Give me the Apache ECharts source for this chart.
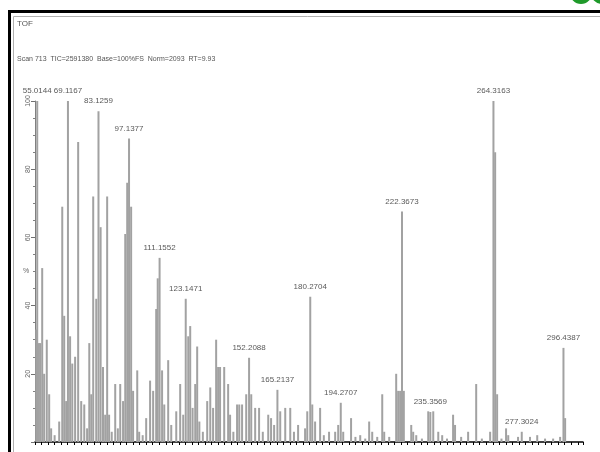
<!DOCTYPE html>
<html>
<head>
<meta charset="utf-8">
<script src="https://cdn.jsdelivr.net/npm/echarts@6/dist/echarts.min.js"></script>
<style>
  html, body { margin: 0; padding: 0; background: #fff; }
  #chart { width: 600px; height: 452px; }
</style>
</head>
<body>
<div id="chart"></div>
<script>
// Mass spectrum: m/z of each stick and its relative intensity (%)
const mz = [
  54.6, 55.0144, 55.8, 56.4, 57.3, 58.2, 59.4, 60.5, 61.4, 63.0, 65.1, 66.5, 67.4, 68.3,
  69.1167, 70.1, 71.1, 72.4, 73.8, 75.2, 76.6, 77.9, 78.9, 79.8, 80.7, 82.1, 83.1259,
  84.1, 85.2, 86.2, 87.1, 88.0, 89.2, 90.8, 92.0, 93.1, 94.4, 95.4, 96.3, 97.1377, 98.1,
  99.0, 100.9, 101.8, 103.4, 105.0, 106.8, 108.2, 109.6, 110.3, 111.1552, 112.3, 113.3,
  115.1, 116.5, 118.8, 120.6, 122.0, 123.1471, 124.3, 125.2, 126.3, 127.5, 128.4, 129.4,
  131.0, 133.0, 134.4, 135.7, 137.1, 138.0, 138.9, 140.8, 142.6, 143.5, 145.0, 146.7,
  147.7, 149.0, 150.9, 152.2088, 153.2, 155.0, 156.8, 158.5, 161.0, 162.3, 163.7,
  165.2137, 166.5, 168.8, 171.1, 172.8, 174.7, 177.9, 178.9, 180.2704, 181.2, 182.5,
  184.8, 186.5, 188.9, 191.7, 193.1, 194.2707, 195.4, 199.0, 201.0, 203.2, 205.5, 207.3,
  208.7, 211.0, 213.3, 214.2, 216.5, 219.7, 220.6, 221.5, 222.3673, 223.2, 226.6, 227.5,
  228.9, 231.5, 234.4, 235.3569, 236.7, 239.0, 240.8, 243.0, 245.8, 246.7, 249.5, 252.7,
  256.4, 259.0, 262.8, 264.3163, 265.1, 266.0, 268.0, 270.1, 271.1, 275.6, 277.3024,
  281.1, 284.4, 288.0, 291.7, 294.9, 296.4387, 297.2
];
const intensity = [
  33, 100, 29, 29, 51, 20, 30, 14, 4, 2, 6, 69, 37, 12,
  100, 31, 23, 25, 88, 12, 11, 4, 29, 14, 72, 42, 97,
  63, 22, 8, 72, 8, 3, 17, 4, 17, 12, 61, 76, 89, 69,
  15, 21, 3, 2, 7, 18, 15, 39, 48, 54, 21, 11,
  24, 5, 9, 17, 8, 42, 31, 34, 10, 17, 28, 6,
  3, 12, 16, 10, 30, 22, 22, 22, 17, 8, 3, 11,
  11, 11, 14, 24.7, 14, 10, 10, 3, 8, 7, 5,
  15.3, 9, 10, 10, 3, 5, 4, 9, 42.6, 11, 6,
  10, 2, 3, 3, 5, 11.5, 3, 7, 1.5, 2, 1, 6,
  3, 1.5, 14, 3, 1.5, 20, 15, 15, 67.6, 15, 5, 3,
  2, 1, 9, 8.8, 9, 3, 2, 1, 8, 5, 1.5, 3,
  17, 1, 3, 100, 85, 14, 1, 4, 2, 1.5, 3,
  1.5, 2, 1, 1, 1.5, 27.6, 7
];
// Sticks annotated with their accurate mass
const labelledMz = [
  55.0144, 69.1167, 83.1259, 97.1377, 111.1552, 123.1471, 152.2088, 165.2137,
  180.2704, 194.2707, 222.3673, 235.3569, 264.3163, 277.3024, 296.4387
];
// Relative intensity axis ticks
const yTicks = [0, 20, 40, 60, 80, 100];

const titleLine = 'TOF';
const scanLine = 'Scan 713  TIC=2591380  Base=100%FS  Norm=2093  RT=9.93';

const labelFont = 'Liberation Sans, Arial, sans-serif';

const seriesData = mz.map((m, i) => {
  const item = { value: [m, intensity[i]] };
  if (labelledMz.includes(m)) {
    item.label = { show: true };
  }
  return item;
});

const chart = echarts.init(document.getElementById('chart'), null, { renderer: 'canvas' });

chart.setOption({
  animation: false,
  backgroundColor: '#ffffff',
  grid: {
    left: 35, top: 101, width: 548, height: 341,
    outerBoundsMode: 'none'
  },
  xAxis: {
    type: 'value',
    min: 54,
    max: 305.4,
    interval: 3,
    axisLine: { show: true, lineStyle: { color: '#000', width: 1.5 } },
    axisTick: { show: true, length: 3, lineStyle: { color: '#000', width: 1 } },
    axisLabel: { show: false },
    splitLine: { show: false }
  },
  yAxis: {
    type: 'value',
    min: yTicks[0],
    max: yTicks[yTicks.length - 1],
    interval: 20,
    axisLine: { show: true, lineStyle: { color: '#808080', width: 1 } },
    axisTick: { show: true, length: 4, lineStyle: { color: '#707070' } },
    minorTick: { show: true, splitNumber: 4, length: 2, lineStyle: { color: '#808080' } },
    axisLabel: {
      show: true, rotate: 90, margin: 3, fontSize: 7, color: '#666',
      fontFamily: labelFont,
      formatter: v => (v === 0 ? '' : String(v))
    },
    splitLine: { show: false }
  },
  series: [{
    type: 'bar',
    data: seriesData,
    barWidth: 2,
    barGap: '-100%',
    itemStyle: { color: '#a2a2a2' },
    label: {
      show: false,
      position: 'top',
      distance: 6,
      fontSize: 8,
      color: '#5a5a5a',
      fontFamily: labelFont,
      backgroundColor: '#ffffff',
      padding: [0, 1],
      formatter: p => p.value[0].toFixed(4)
    },
    emphasis: { disabled: true },
    z: 2
  }],
  graphic: [
    // window frame
    {
      type: 'rect', silent: true, z: 10,
      shape: { x: 9.5, y: 11.5, width: 640, height: 500 },
      style: { fill: 'none', stroke: '#000', lineWidth: 3 }
    },
    {
      type: 'rect', silent: true, z: 10,
      shape: { x: 13.5, y: 16.5, width: 640, height: 500 },
      style: { fill: 'none', stroke: '#b0b0b0', lineWidth: 1 }
    },
    // corner logo fragment
    {
      type: 'circle', silent: true, z: 10,
      shape: { cx: 581, cy: -7, r: 9 },
      style: { fill: 'none', stroke: '#1f9a2a', lineWidth: 4 }
    },
    {
      type: 'circle', silent: true, z: 10,
      shape: { cx: 602, cy: -7, r: 9 },
      style: { fill: 'none', stroke: '#1f9a2a', lineWidth: 4 }
    },
    // header lines
    {
      type: 'text', silent: true, z: 10,
      style: { text: titleLine, x: 17, y: 20, font: '8px ' + labelFont, fill: '#555' }
    },
    {
      type: 'text', silent: true, z: 10,
      style: { text: scanLine, x: 17, y: 56, font: '7px ' + labelFont, fill: '#555' }
    },
    // intensity unit
    {
      type: 'text', silent: true, z: 10,
      style: { text: '%', x: 23, y: 268, font: '7px ' + labelFont, fill: '#666' }
    }
  ]
});
</script>
</body>
</html>
